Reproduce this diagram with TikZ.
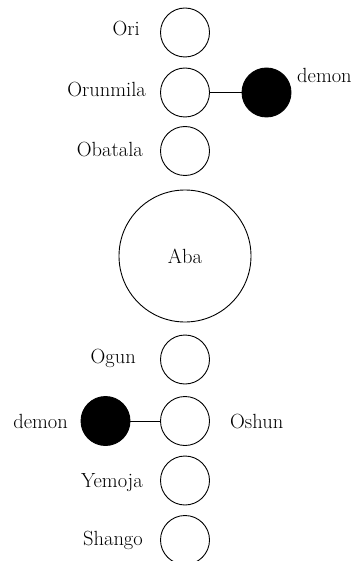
\documentclass[tikz,border=0pt]{standalone}
\begin{document}
\begin{tikzpicture}[x=1pt,y=-1pt,
  god/.style={circle, draw, line width=0.9pt, minimum size=49pt, inner sep=0pt},
  demonc/.style={god, fill=black},
  big/.style={god, minimum size=132pt, font=\fontsize{20.5}{22}\selectfont},
  lbl/.style={font=\fontsize{20.5}{22}\selectfont, inner sep=0pt},
  link/.style={line width=0.9pt}]
\useasboundingbox (0,0) rectangle (353,561);
% circles
\node[god] (ori) at (185,32.5) {};
\node[god] (orunmila) at (185,92.5) {};
\node[god] (obatala) at (185,151) {};
\node[big] (aba) at (185,256) {Aba};
\node[god] (ogun) at (185,359.5) {};
\node[god] (oshun) at (185,421) {};
\node[god] (yemoja) at (185,480.5) {};
\node[god] (shango) at (185,540) {};
\node[demonc] (demonR) at (266.5,92.5) {};
\node[demonc] (demonL) at (105.5,421) {};
% connectors
\draw[link] (orunmila) -- (demonR);
\draw[link] (demonL) -- (oshun);
% labels
\node[lbl, anchor=base east] (tori) at (140,36) {Ori};
\node[lbl, anchor=base east] (torunmila) at (146,97) {Orunmila};
\node[lbl, anchor=base east] (tobatala) at (143,157) {Obatala};
\node[lbl, anchor=base east] (togun) at (136,363) {Ogun};
\node[lbl, anchor=base east] (tyemoja) at (143,487) {Yemoja};
\node[lbl, anchor=base east] (tshango) at (143,545) {Shango};
\node[lbl, anchor=base west] (toshun) at (230,428) {Oshun};
\node[lbl, anchor=base west] (tdemonR) at (297,82.5) {demon};
\node[lbl, anchor=base east] (tdemonL) at (68,428) {demon};
\end{tikzpicture}
\end{document}
